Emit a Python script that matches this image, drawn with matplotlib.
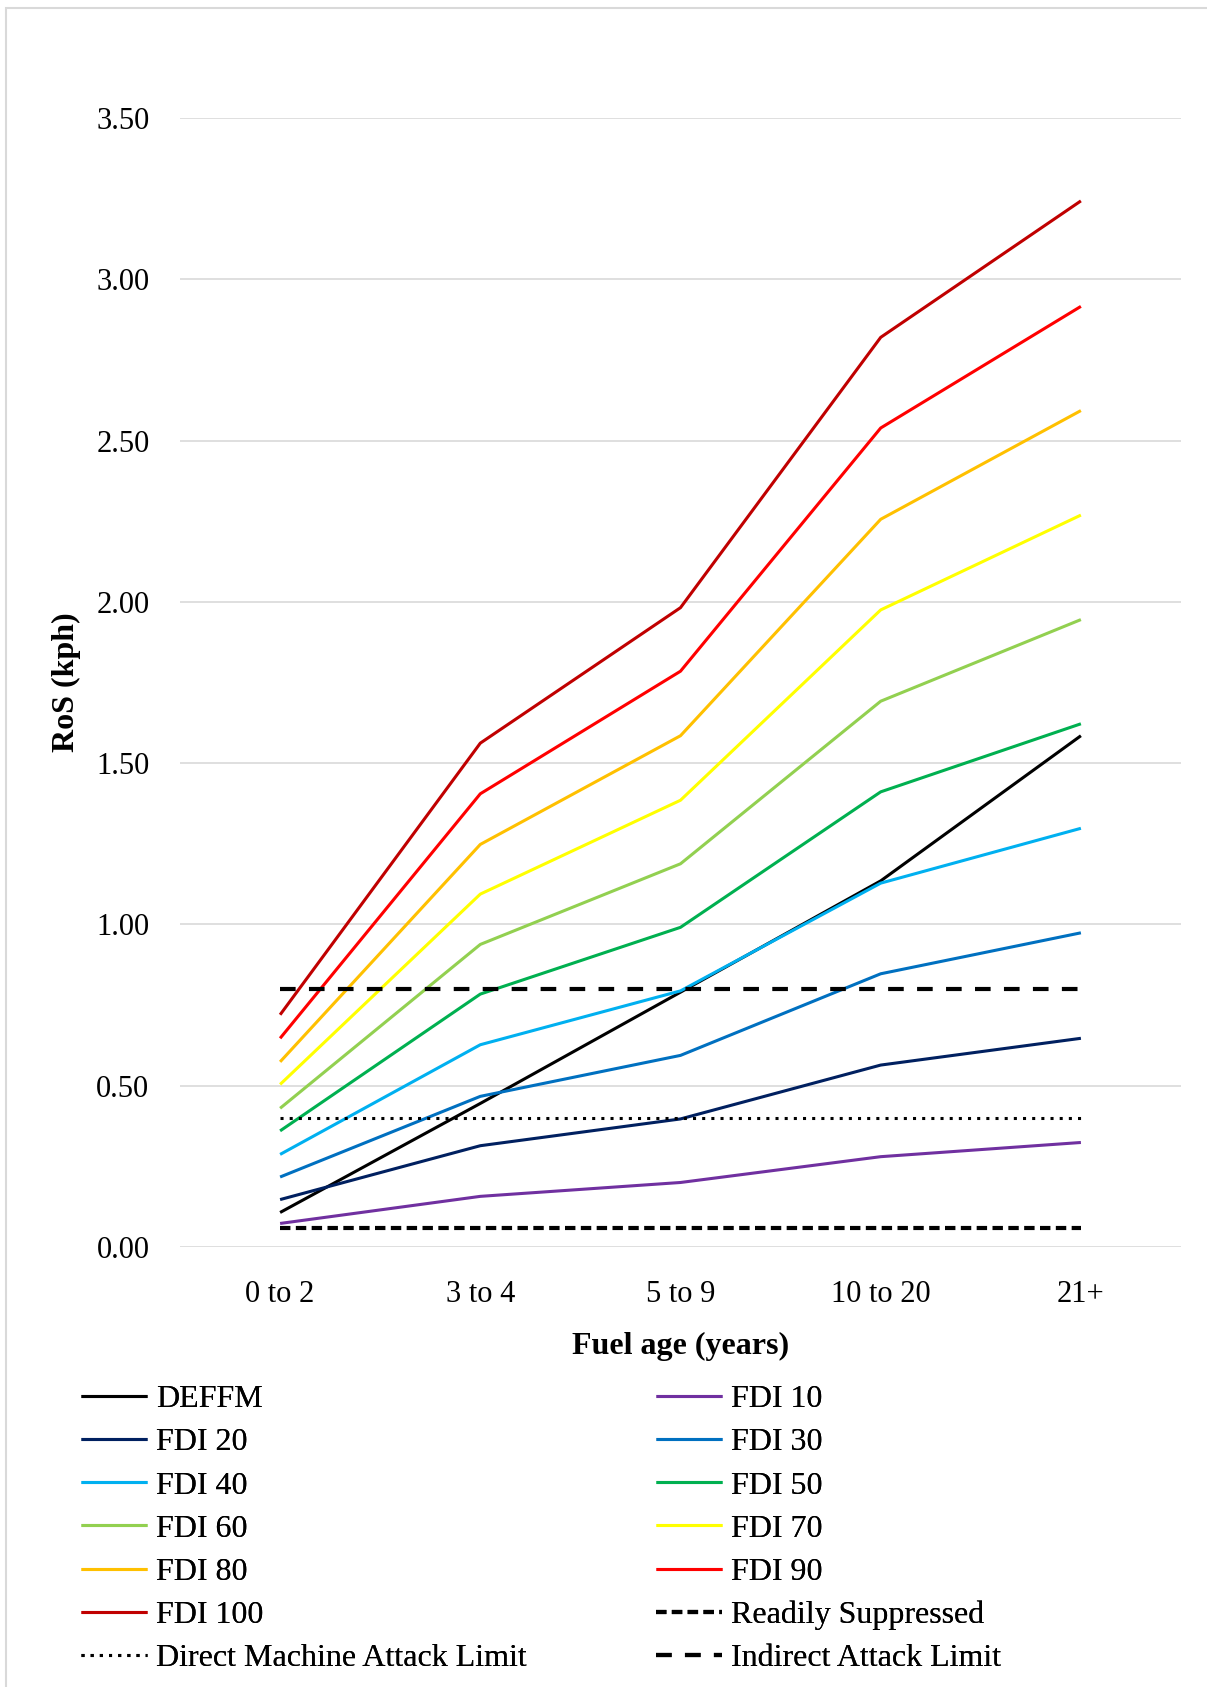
import matplotlib.pyplot as plt
from matplotlib.patches import Rectangle

plt.rcParams['font.family'] = ['Liberation Serif', 'DejaVu Serif']

# data
fuel_age = ['0 to 2', '3 to 4', '5 to 9', '10 to 20', '21+']
deffm = [0.107, 0.445, 0.790, 1.135, 1.585]
fdi_10 = [0.073, 0.157, 0.200, 0.280, 0.324]
fdi_20 = [0.147, 0.314, 0.397, 0.564, 0.647]
fdi_30 = [0.217, 0.467, 0.594, 0.847, 0.974]
fdi_40 = [0.287, 0.627, 0.794, 1.128, 1.298]
fdi_50 = [0.360, 0.784, 0.991, 1.411, 1.622]
fdi_60 = [0.430, 0.938, 1.188, 1.692, 1.945]
fdi_70 = [0.504, 1.094, 1.385, 1.975, 2.269]
fdi_80 = [0.574, 1.248, 1.585, 2.256, 2.593]
fdi_90 = [0.647, 1.405, 1.785, 2.539, 2.916]
fdi_100 = [0.720, 1.562, 1.982, 2.820, 3.243]

readily_suppressed = 0.06
direct_machine_limit = 0.40
indirect_attack_limit = 0.80

series = [
    ('DEFFM', deffm, '#000000'),
    ('FDI 10', fdi_10, '#7030A0'),
    ('FDI 20', fdi_20, '#002060'),
    ('FDI 30', fdi_30, '#0070C0'),
    ('FDI 40', fdi_40, '#00B0F0'),
    ('FDI 50', fdi_50, '#00B050'),
    ('FDI 60', fdi_60, '#92D050'),
    ('FDI 70', fdi_70, '#FFFF00'),
    ('FDI 80', fdi_80, '#FFC000'),
    ('FDI 90', fdi_90, '#FF0000'),
    ('FDI 100', fdi_100, '#C00000'),
]

W, H = 1207, 1687
fig = plt.figure(figsize=(W / 100, H / 100), dpi=100)
ax = fig.add_axes([180 / W, 1 - 1247 / H, 1001 / W, (1247 - 118) / H])

# chart border (only top/left visible in the reference)
fig.patches.append(Rectangle((6 / W, -0.01), 1.1, 1 - 8 / H + 0.01,
                             transform=fig.transFigure, fill=False,
                             edgecolor='#D9D9D9', lw=1.5))

x = list(range(len(fuel_age)))
handles = {}
for name, vals, col in series:
    h, = ax.plot(x, vals, color=col, lw=2.2, label=name, solid_capstyle='butt')
    handles[name] = h

xs = [x[0], x[-1]]
h, = ax.plot(xs, [readily_suppressed] * 2, color='black', lw=3,
             linestyle=(0, (2.5, 1.3)), label='Readily Suppressed')
handles['Readily Suppressed'] = h
h, = ax.plot(xs, [direct_machine_limit] * 2, color='black', lw=2.2,
             linestyle=(0, (1, 2)), label='Direct Machine Attack Limit')
handles['Direct Machine Attack Limit'] = h
h, = ax.plot(xs, [indirect_attack_limit] * 2, color='black', lw=3,
             linestyle=(0, (3.75, 3.2)), label='Indirect Attack Limit')
handles['Indirect Attack Limit'] = h

ax.set_xlim(-0.5, 4.5)
ax.set_ylim(0, 3.5)
ax.set_yticks([0, 0.5, 1, 1.5, 2, 2.5, 3, 3.5])
ax.set_yticklabels([f'{v:.2f}' for v in ax.get_yticks()])
ax.set_xticks(x)
ax.set_xticklabels(fuel_age)
ax.tick_params(length=0, labelsize=22, colors='black')
ax.tick_params(axis='y', pad=22)
ax.tick_params(axis='x', pad=24)
ax.grid(axis='y', color='#D9D9D9', lw=1.2)
ax.set_axisbelow(True)
for s in ax.spines.values():
    s.set_visible(False)

ax.set_xlabel('Fuel age (years)', fontsize=23, fontweight='bold', labelpad=16)
ax.set_ylabel('RoS (kph)', fontsize=23, fontweight='bold', labelpad=11)

left_col = ['DEFFM', 'FDI 20', 'FDI 40', 'FDI 60', 'FDI 80', 'FDI 100',
            'Direct Machine Attack Limit']
right_col = ['FDI 10', 'FDI 30', 'FDI 50', 'FDI 70', 'FDI 90',
             'Readily Suppressed', 'Indirect Attack Limit']

for names, x0 in [(left_col, 81), (right_col, 656)]:
    leg = fig.legend([handles[n] for n in names], names, loc='upper left',
                     bbox_to_anchor=(x0 / W, 1 - 1385 / H), frameon=False,
                     fontsize=23, handlelength=2.07, handletextpad=0.28,
                     labelspacing=0.43, borderpad=0, borderaxespad=0)
    fig.add_artist(leg)

fig.savefig('out.png', dpi=100)
